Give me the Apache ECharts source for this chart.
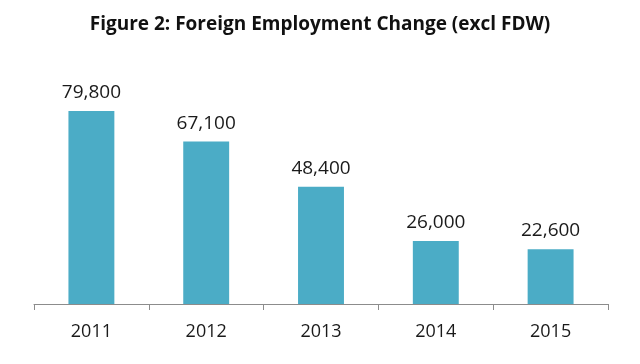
<!DOCTYPE html>
<html><head><meta charset="utf-8">
<script src="https://cdn.jsdelivr.net/npm/echarts@6/dist/echarts.min.js"></script>
<style>html,body{margin:0;padding:0;background:#fff}#c{width:640px;height:364px}</style>
</head><body><div id="c"></div>
<script>
const categories = ['2011','2012','2013','2014','2015'];
const values = [79800, 67100, 48400, 26000, 22600];
const chartTitle = 'Figure 2: Foreign Employment Change (excl FDW)';

const chart = echarts.init(document.getElementById('c'), null, {renderer:'canvas'});
chart.setOption({
  animation:false,
  backgroundColor:'#fff',
  title:{text:chartTitle,left:'center',top:10,textStyle:{fontFamily:'Open Sans',fontWeight:'bold',fontSize:19,color:'#111'}},
  grid:{left:34,right:32,top:62,bottom:60,containLabel:false},
  xAxis:{type:'category',data:categories,
    axisLine:{lineStyle:{color:'#8c8c8c',width:1}},
    axisTick:{show:true,length:6,lineStyle:{color:'#8c8c8c'}},
    axisLabel:{fontFamily:'Open Sans',fontSize:18,color:'#1a1a1a',margin:19}},
  yAxis:{type:'value',min:0,max:100000,show:false,splitLine:{show:false}},
  series:[{type:'bar',data:values,barCategoryGap:'60%',
    itemStyle:{color:'#4BACC6'},
    label:{show:true,position:'top',distance:9,fontFamily:'Open Sans',fontSize:19,color:'#1a1a1a',
      formatter:p=>p.value.toLocaleString('en-US')}}]
});
</script></body></html>
